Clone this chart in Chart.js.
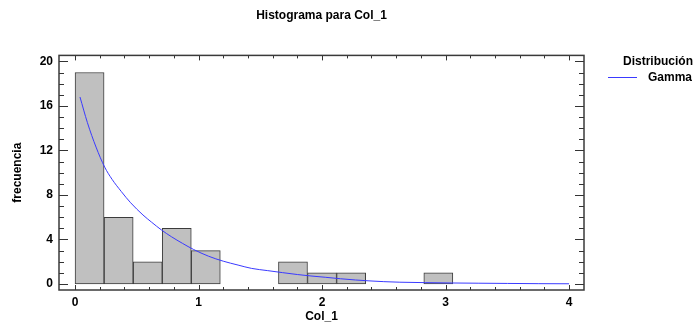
<!DOCTYPE html>
<html>
<head>
<meta charset="utf-8">
<title>Histograma para Col_1</title>
<script src="https://cdn.jsdelivr.net/npm/chart.js@4.4.0/dist/chart.umd.min.js"></script>
<style>
  body { margin: 0; background: #fff; }
  canvas { display: block; }
</style>
</head>
<body>
<canvas id="chart" width="695" height="327"></canvas>
<script>
// histogram bins (17 equal classes from 0 to 4) and their counts
const binEdges = [0, 0.235, 0.471, 0.706, 0.941, 1.176, 1.412, 1.647, 1.882, 2.118, 2.353, 2.588, 2.824, 3.059, 3.294, 3.529, 3.765, 4.0];
const counts = [19, 6, 2, 5, 3, 0, 0, 2, 1, 1, 0, 0, 1, 0, 0, 0, 0];

// fitted Gamma curve
const gammaX = [0.04, 0.1, 0.17, 0.24, 0.3, 0.375, 0.45, 0.55, 0.62, 0.7, 0.78, 0.87, 0.96, 1.08, 1.2, 1.32, 1.43, 1.56, 1.68, 1.8, 1.91, 2.03, 2.15, 2.27, 2.38, 2.5, 2.63, 2.84, 3.05, 3.27, 3.5, 3.75, 4.0];
const gammaY = [16.8, 14.5, 12.3, 10.5, 9.4, 8.3, 7.3, 6.2, 5.55, 4.85, 4.25, 3.65, 3.1, 2.5, 2.05, 1.7, 1.4, 1.2, 1.02, 0.85, 0.72, 0.6, 0.47, 0.36, 0.28, 0.21, 0.16, 0.12, 0.09, 0.07, 0.05, 0.03, 0.02];

const xTicks = [0, 1, 2, 3, 4];
const yTicks = [0, 4, 8, 12, 16, 20];
const xMinorStep = 0.2;
const yMinorStep = 1;

const seriesName = 'Gamma';
const legendTitle = 'Distribución';

const FONT = '"Liberation Sans", Arial, sans-serif';
const curveColor = '#3a3aff';

const barData = counts.map((c, i) => ({ x: (binEdges[i] + binEdges[i + 1]) / 2, y: c }));
const curveData = gammaX.map((x, i) => ({ x: x, y: gammaY[i] }));

// frame, inward ticks and the legend
const frameTicks = {
  id: 'frameTicks',
  afterDraw(chart) {
    const { ctx, chartArea: a, scales: { x, y } } = chart;
    ctx.save();
    ctx.strokeStyle = '#333';
    ctx.lineWidth = 1;
    ctx.beginPath();
    for (let v = xTicks[0]; v <= xTicks[xTicks.length - 1] + 1e-6; v += xMinorStep) {
      const px = Math.round(x.getPixelForValue(v)) + 0.5;
      const len = Math.abs(v - Math.round(v)) < 1e-6 ? 5 : 3;
      ctx.moveTo(px, a.bottom); ctx.lineTo(px, a.bottom - len);
      ctx.moveTo(px, a.top); ctx.lineTo(px, a.top + len);
    }
    for (let v = yTicks[0]; v <= yTicks[yTicks.length - 1] + 1e-6; v += yMinorStep) {
      const py = Math.round(y.getPixelForValue(v)) + 0.5;
      const len = yTicks.includes(Math.round(v)) && Math.abs(v - Math.round(v)) < 1e-6 ? 9 : 5;
      ctx.moveTo(a.left, py); ctx.lineTo(a.left + len, py);
      ctx.moveTo(a.right, py); ctx.lineTo(a.right - len, py);
    }
    ctx.stroke();
    ctx.lineWidth = 1.5;
    ctx.strokeStyle = '#3a3a3a';
    ctx.strokeRect(a.left, a.top, a.right - a.left, a.bottom - a.top);

    // legend
    ctx.fillStyle = '#000';
    ctx.font = 'bold 12px ' + FONT;
    ctx.textAlign = 'right';
    ctx.textBaseline = 'middle';
    ctx.fillText(legendTitle, 693, 62);
    ctx.fillText(seriesName, 692, 78);
    ctx.strokeStyle = curveColor;
    ctx.lineWidth = 1;
    ctx.beginPath();
    ctx.moveTo(608, 77.5);
    ctx.lineTo(637, 77.5);
    ctx.stroke();
    ctx.restore();
  }
};

new Chart(document.getElementById('chart'), {
  type: 'bar',
  data: {
    datasets: [
      {
        type: 'line',
        label: seriesName,
        data: curveData,
        borderColor: curveColor,
        borderWidth: 1,
        pointRadius: 0,
        cubicInterpolationMode: 'monotone',
        fill: false,
        order: 0,
      },
      {
        type: 'bar',
        label: 'Col_1',
        data: barData,
        backgroundColor: '#c0c0c0',
        borderColor: '#3c3c3c',
        borderWidth: 1,
        borderSkipped: false,
        barPercentage: 1,
        categoryPercentage: 1,
        order: 1,
      },
    ],
  },
  options: {
    responsive: false,
    animation: false,
    layout: { padding: { left: 0, right: 111, top: 0, bottom: 0 } },
    plugins: {
      legend: { display: false },
      tooltip: { enabled: false },
      title: {
        display: true,
        fullSize: false,
        text: 'Histograma para Col_1',
        color: '#000',
        font: { family: FONT, size: 12, weight: 'bold' },
        padding: { top: 8, bottom: 33 },
      },
    },
    scales: {
      x: {
        type: 'linear',
        min: -0.13,
        max: 4.121,
        offset: false,
        grid: { display: false, drawTicks: false },
        border: { display: false },
        afterBuildTicks: (s) => { s.ticks = xTicks.map((v) => ({ value: v })); },
        afterFit: (s) => { s.height = 37; },
        ticks: {
          color: '#000',
          padding: 5,
          font: { family: FONT, size: 12, weight: 'bold' },
        },
        title: {
          display: true,
          text: 'Col_1',
          color: '#000',
          font: { family: FONT, size: 12, weight: 'bold' },
          padding: { top: 0, bottom: 3 },
        },
      },
      y: {
        min: -0.54,
        max: 20.54,
        grid: { display: false, drawTicks: false },
        border: { display: false },
        afterBuildTicks: (s) => { s.ticks = yTicks.map((v) => ({ value: v })); },
        afterFit: (s) => { s.width = 59; },
        ticks: {
          color: '#000',
          padding: 6,
          font: { family: FONT, size: 12, weight: 'bold' },
        },
        title: {
          display: true,
          text: 'frecuencia',
          color: '#000',
          font: { family: FONT, size: 12, weight: 'bold' },
          padding: { top: 10, bottom: 0 },
        },
      },
    },
  },
  plugins: [frameTicks],
});
</script>
</body>
</html>
